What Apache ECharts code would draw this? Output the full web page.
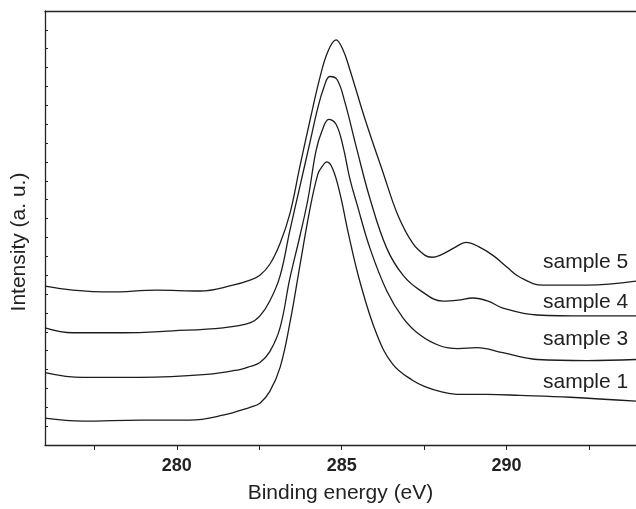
<!DOCTYPE html>
<html>
<head>
<meta charset="utf-8">
<script src="https://cdn.jsdelivr.net/npm/echarts@6/dist/echarts.min.js"></script>
<style>
html,body{margin:0;padding:0;background:#fff;}
#chart{width:636px;height:509px;}
</style>
</head>
<body>
<div id="chart"></div>
<script>
// Binding energy (eV), intensity (a.u.)
const seriesNames = ['sample 5', 'sample 4', 'sample 3', 'sample 1'];
const sample5 = [[276.0,8.42],[276.84,8.21],[277.97,8.11],[279.39,8.21],[280.70,8.16],[281.70,8.47],[282.22,8.74],[282.52,9.0],[282.82,9.58],[283.13,10.68],[283.43,12.26],[283.73,14.74],[284.04,17.21],[284.34,19.47],[284.58,20.84],[284.83,21.47],[285.04,20.95],[285.25,19.89],[285.71,17.26],[286.25,14.47],[286.71,12.16],[287.16,10.68],[287.53,10.05],[287.74,9.95],[287.98,10.05],[288.44,10.47],[288.77,10.74],[289.14,10.53],[289.59,10.05],[290.02,9.42],[290.41,8.89],[291.11,8.47],[292.44,8.47],[293.93,8.68]];
const sample4 = [[276.0,6.21],[276.84,5.95],[278.36,5.95],[279.88,6.05],[281.40,6.21],[282.22,6.47],[282.52,6.84],[282.82,7.63],[283.13,8.95],[283.43,11.37],[283.73,13.68],[284.04,16.05],[284.28,17.89],[284.46,18.95],[284.64,19.53],[284.86,19.37],[285.10,18.16],[285.46,15.68],[285.86,13.05],[286.37,10.42],[286.86,9.0],[287.37,8.21],[288.07,7.63],[288.53,7.68],[288.98,7.79],[289.44,7.63],[289.89,7.26],[290.93,6.89],[292.44,6.84],[293.93,6.84]];
const sample3 = [[276.0,3.84],[277.15,3.58],[278.88,3.58],[280.91,3.74],[281.91,4.0],[282.22,4.16],[282.52,4.37],[282.82,4.95],[283.13,6.21],[283.43,8.84],[283.73,11.05],[283.98,13.05],[284.22,15.58],[284.40,16.63],[284.61,17.26],[284.83,17.0],[285.04,15.84],[285.25,14.1],[285.46,12.79],[285.86,10.42],[286.37,8.16],[286.86,6.74],[287.37,5.84],[287.98,5.26],[288.53,5.11],[289.10,5.16],[289.89,4.89],[290.93,4.53],[292.44,4.47],[293.93,4.53]];
const sample1 = [[276.0,1.42],[277.15,1.26],[278.88,1.32],[280.39,1.32],[281.40,1.58],[282.22,2.0],[282.52,2.21],[282.82,2.84],[283.13,4.1],[283.43,6.47],[283.73,9.47],[284.04,12.53],[284.28,14.37],[284.40,14.74],[284.55,15.0],[284.73,14.63],[284.95,13.32],[285.19,11.32],[285.55,8.68],[286.07,5.84],[286.56,4.26],[287.16,3.42],[287.59,3.05],[287.98,2.84],[288.59,2.68],[289.41,2.68],[290.41,2.63],[291.93,2.53],[293.93,2.32]];
const xTickValues = [277.5, 280, 282.5, 285, 287.5, 290, 292.5];
const xLabelValues = [280, 285, 290];
const xMin = 276.0, xMax = 293.93;
const yMin = 0, yMax = 23;

const chart = echarts.init(document.getElementById('chart'), null, {renderer: 'canvas'});
const lineColor = '#1c1c1c';
const textColor = '#222';
const font = 'Liberation Sans, Arial, sans-serif';

function mkSeries(name, data) {
  return {
    name: name, type: 'line', data: data, xAxisIndex: 0, yAxisIndex: 0,
    showSymbol: false, smooth: 0.4, animation: false,
    lineStyle: {color: lineColor, width: 1.3}
  };
}

const labelY = {'sample 5': 262, 'sample 4': 302, 'sample 3': 339, 'sample 1': 382};

chart.setOption({
  backgroundColor: '#fff',
  animation: false,
  grid: {left: 45, right: 0, top: 11, bottom: 61, containLabel: false},
  xAxis: [{
    type: 'value', position: 'bottom', min: xMin, max: xMax,
    axisLine: {show: true, lineStyle: {color: '#222', width: 1.3}},
    axisTick: {show: true, customValues: xTickValues, length: 5, inside: false, lineStyle: {color: '#222', width: 1}},
    axisLabel: {show: true, customValues: xLabelValues, margin: 12, color: textColor, fontSize: 18, fontWeight: 'bold', fontFamily: font},
    splitLine: {show: false},
    name: 'Binding energy (eV)', nameLocation: 'middle', nameGap: 38,
    nameTextStyle: {color: textColor, fontSize: 21, fontFamily: font}
  }, {
    type: 'value', position: 'top', min: xMin, max: xMax,
    axisLine: {show: true, lineStyle: {color: '#222', width: 1.3}},
    axisTick: {show: false}, axisLabel: {show: false}, splitLine: {show: false}
  }],
  yAxis: [{
    type: 'value', min: yMin, max: yMax, interval: 1,
    axisLine: {show: true, lineStyle: {color: '#222', width: 1.3}},
    axisTick: {show: true, inside: true, length: 3, lineStyle: {color: '#222', width: 1}},
    axisLabel: {show: false}, splitLine: {show: false}
  }],
  graphic: [{
    type: 'text', x: 19, y: 242, rotation: Math.PI / 2,
    style: {text: 'Intensity (a. u.)', fill: textColor, font: '21px ' + font, align: 'center', verticalAlign: 'middle'}
  }].concat(seriesNames.map(n => ({
    type: 'text', x: 543, y: labelY[n],
    style: {text: n, fill: textColor, font: '21px ' + font, align: 'left', verticalAlign: 'middle'}
  }))),
  series: [mkSeries('sample 5', sample5), mkSeries('sample 4', sample4), mkSeries('sample 3', sample3), mkSeries('sample 1', sample1)]
});
</script>
</body>
</html>
